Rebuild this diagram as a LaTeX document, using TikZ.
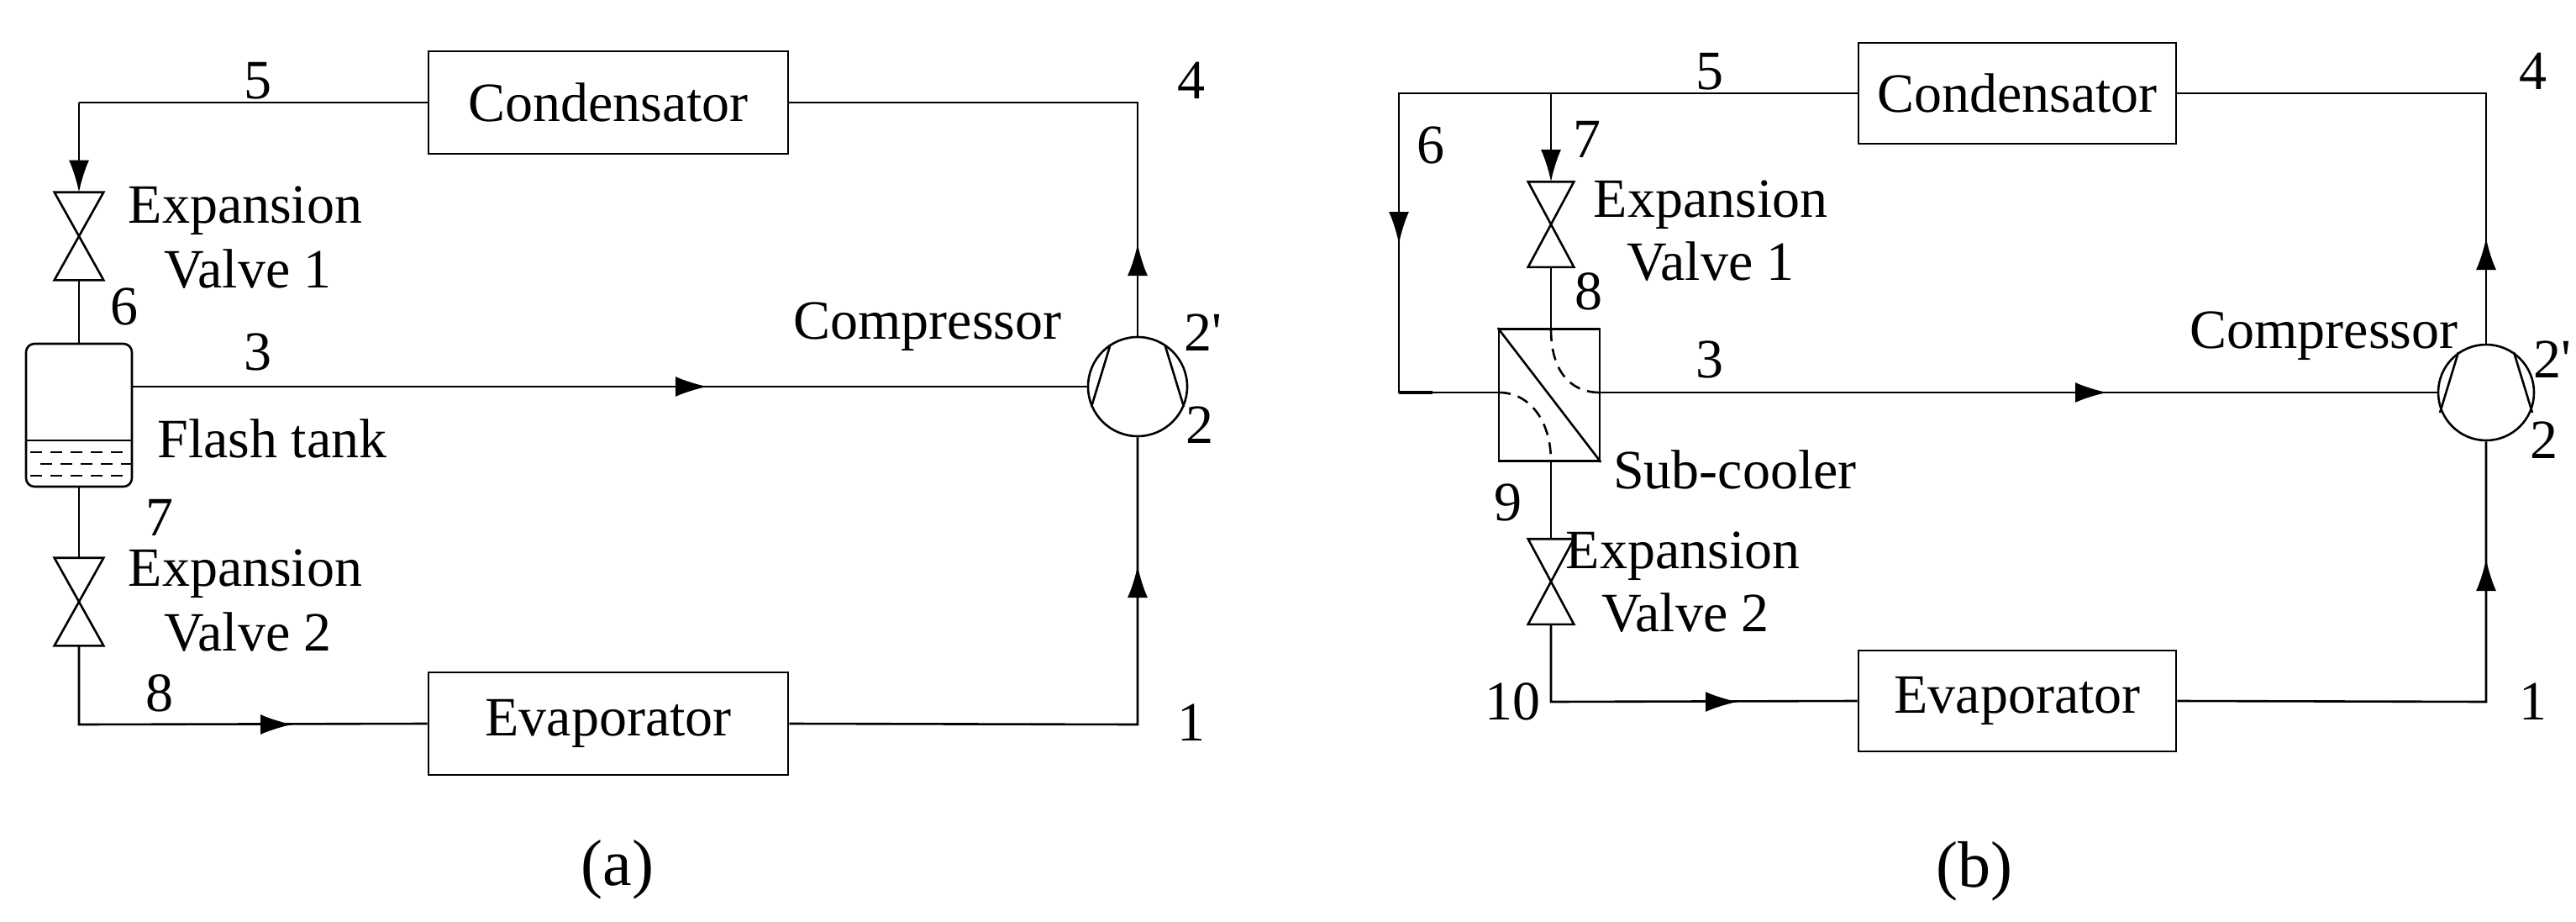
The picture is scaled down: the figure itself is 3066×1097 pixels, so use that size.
\documentclass[tikz,border=0pt]{standalone}
\usepackage{fontspec}
\setmainfont{Liberation Serif}
\usetikzlibrary{arrows.meta,calc}
\begin{document}
\begin{tikzpicture}[x=1pt,y=-1pt,
  line width=2.6pt,
  tip/.style={-{Latex[length=38pt,width=24pt]}},
  box/.style={draw,minimum width=428pt,minimum height=122pt,inner sep=0pt},
  lbl/.style={font=\fontsize{66}{72}\selectfont,inner sep=0pt},
  subcap/.style={font=\fontsize{78}{84}\selectfont,inner sep=0pt},
  vlv/.style={minimum width=56pt,minimum height=102pt,inner sep=0pt},
  comp/.style={draw,circle,minimum size=118pt,inner sep=0pt}]
\useasboundingbox (0,0) rectangle (3066,1097);
\newcommand{\myvalve}[1]{\draw (#1.north west)--(#1.north east)--(#1.south west)--(#1.south east)--cycle;}
\newcommand{\compsym}[1]{\draw ($(#1)+(-33,-48)$)--($(#1)+(-55,24)$); \draw ($(#1)+(33,-48)$)--($(#1)+(55,24)$);}
\newcommand{\tipat}[2]{\draw[tip] ($(#1)-(#2)$) -- (#1);}
% ===== panel (a) =====
\node[box] (condA) at (724,122) {};
\node[lbl] at (724,122) {Condensator};
\node[box] (evapA) at (724,861) {};
\node[lbl] at (724,861) {Evaporator};
\node[vlv] (v1A) at (94,281) {}; \myvalve{v1A}
\node[vlv] (v2A) at (94,716) {}; \myvalve{v2A}
\node[draw,rounded corners=10pt,minimum width=126pt,minimum height=170pt,inner sep=0pt] (tank) at (94,494) {};
\draw (31,524)--(157,524);
\draw[dash pattern=on 14pt off 10pt] (36,538)--(150,538);
\draw[dash pattern=on 14pt off 10pt] (48,552)--(156,552);
\draw[dash pattern=on 14pt off 10pt] (36,566)--(150,566);
\node[comp] (compA) at (1354,460) {}; \compsym{compA}
\coordinate (a5) at (94,122);
\coordinate (a4) at (1354,122);
\coordinate (a4t) at (1354,290);
\coordinate (a1) at (1354,862);
\coordinate (a1t) at (1354,673);
\coordinate (a8) at (94,862);
\coordinate (a8t) at (348,862);
\coordinate (a3t) at (842,460);
\draw (condA.west) -- (a5);
\draw[tip] (a5) -- (v1A.north);
\draw (v1A.south) -- (tank.north);
\draw (tank.south) -- (v2A.north);
\draw (v2A.south) -- (a8) -- (evapA.west);
\draw (evapA.east) -- (a1) -- (compA.south);
\draw (compA.north) -- (a4) -- (condA.east);
\draw (tank.east |- a3t) -- (compA.west);
\tipat{a8t}{1,0} \tipat{a1t}{0,-1} \tipat{a4t}{0,-1} \tipat{a3t}{1,0}
\node[lbl] at (307,96) {5};
\node[lbl] at (1418,96) {4};
\node[lbl] at (292,251) {Expansion};
\node[lbl] at (295,320) {Valve 1};
\node[lbl] at (148,365) {6};
\node[lbl] at (307,419) {3};
\node[lbl] at (1104,389) {Compressor};
\node[lbl] at (1432,396) {2\textquotesingle};
\node[lbl] at (1428,506) {2};
\node[lbl] at (324,522) {Flash tank};
\node[lbl] at (190,616) {7};
\node[lbl] at (292,683) {Expansion};
\node[lbl] at (295,752) {Valve 2};
\node[lbl] at (190,825) {8};
\node[lbl] at (1418,860) {1};
\node[subcap] at (735,1035) {(a)};
% ===== panel (b) =====
\node[box,minimum width=378pt,minimum height=120pt] (condB) at (2401,111) {};
\node[lbl] at (2401,111) {Condensator};
\node[box,minimum width=378pt,minimum height=120pt] (evapB) at (2401,834) {};
\node[lbl] at (2401,834) {Evaporator};
\node[vlv,minimum width=52pt,minimum height=99pt] (v1B) at (1846,267) {}; \myvalve{v1B}
\node[vlv,minimum width=52pt,minimum height=99pt] (v2B) at (1846,692) {}; \myvalve{v2B}
\node[draw,minimum width=120pt,minimum height=157pt,inner sep=0pt] (sub) at (1844,470) {};
\draw (sub.north west) -- (sub.south east);
\draw[dash pattern=on 14pt off 9pt] (1846,392) .. controls (1846,440) and (1868,467) .. (1904,467);
\draw[dash pattern=on 14pt off 9pt] (1784,467) .. controls (1820,467) and (1846,500) .. (1846,549);
\node[comp,minimum size=114pt] (compB) at (2959,467) {}; \compsym{compB}
\coordinate (b6) at (1665,111);
\coordinate (b6t) at (1665,290);
\coordinate (b6b) at (1665,467);
\coordinate (b7) at (1846,111);
\coordinate (b4) at (2959,111);
\coordinate (b4t) at (2959,283);
\coordinate (b1) at (2959,835);
\coordinate (b1t) at (2959,665);
\coordinate (b10) at (1846,835);
\coordinate (b10t) at (2068,835);
\coordinate (b3t) at (2508,467);
\draw (condB.west) -- (b6) -- (b6b) -- (sub.west |- b6b);
\draw[line width=4pt] (b6b) -- ($(b6b)+(40,0)$);
\draw[tip] (b7) -- (v1B.north);
\draw (v1B.south) -- (v1B.south |- sub.north);
\draw (v2B.north |- sub.south) -- (v2B.north);
\draw (v2B.south) -- (b10) -- (evapB.west);
\draw (evapB.east) -- (b1) -- (compB.south);
\draw (compB.north) -- (b4) -- (condB.east);
\draw (sub.east |- b3t) -- (compB.west);
\tipat{b6t}{0,1} \tipat{b10t}{1,0} \tipat{b1t}{0,-1} \tipat{b4t}{0,-1} \tipat{b3t}{1,0}
\node[lbl] at (2035,85) {5};
\node[lbl] at (3015,85) {4};
\node[lbl] at (1703,173) {6};
\node[lbl] at (1889,166) {7};
\node[lbl] at (2036,244) {Expansion};
\node[lbl] at (2036,311) {Valve 1};
\node[lbl] at (1891,347) {8};
\node[lbl] at (2035,428) {3};
\node[lbl] at (2766,400) {Compressor};
\node[lbl] at (3038,428) {2\textquotesingle};
\node[lbl] at (3028,524) {2};
\node[lbl] at (2065,559) {Sub-cooler};
\node[lbl] at (1795,598) {9};
\node[lbl] at (2003,662) {Expansion};
\node[lbl] at (2006,729) {Valve 2};
\node[lbl] at (1800,835) {10};
\node[lbl] at (3015,835) {1};
\node[subcap] at (2350,1037) {(b)};
\end{tikzpicture}
\end{document}
